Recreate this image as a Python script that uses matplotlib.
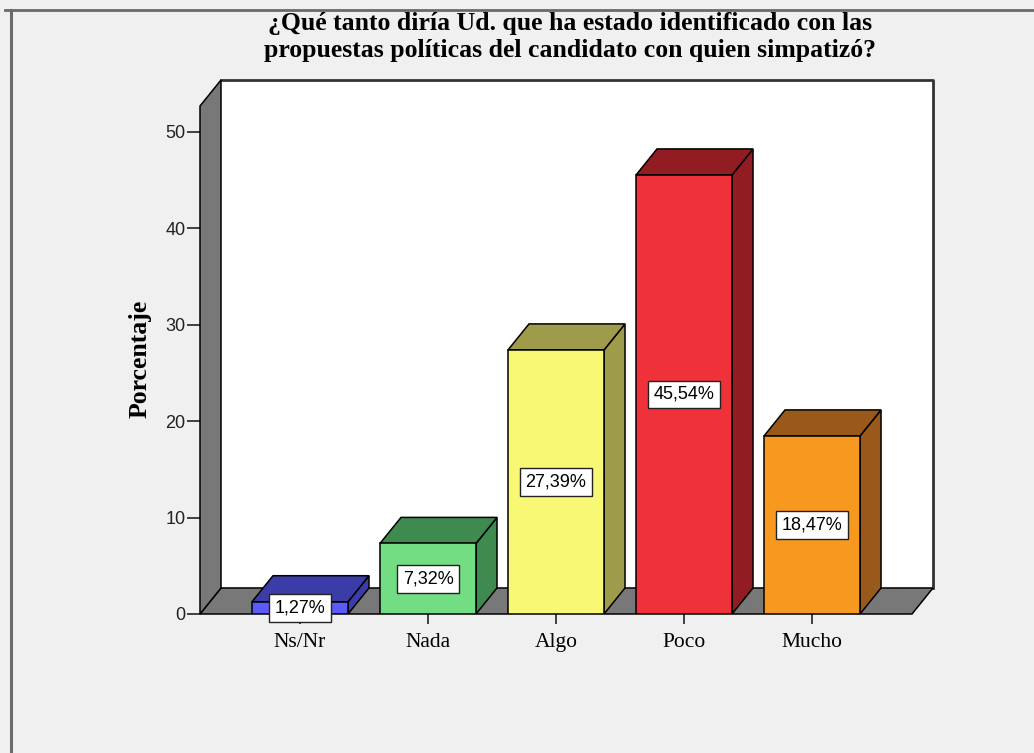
import matplotlib
matplotlib.use("Agg")
import matplotlib.pyplot as plt
from matplotlib.patches import Polygon, Rectangle
from matplotlib.lines import Line2D

# Data
categories = ["Ns/Nr", "Nada", "Algo", "Poco", "Mucho"]
values = [1.27, 7.32, 27.39, 45.54, 18.47]
labels = ["1,27%", "7,32%", "27,39%", "45,54%", "18,47%"]
front_colors = ["#5b5bfb", "#72dd82", "#f8f874", "#ef3239", "#f7981f"]
side_colors = ["#3c3ca8", "#3f8a4f", "#9e9c4a", "#911d22", "#98591a"]
yticks = [0, 10, 20, 30, 40, 50]

TITLE = "¿Qué tanto diría Ud. que ha estado identificado con las\npropuestas políticas del candidato con quien simpatizó?"

W, H = 1034, 753
fig = plt.figure(figsize=(W / 100, H / 100), dpi=100)
fig.patch.set_facecolor("#f0f0f0")

# axes box in pixels: front-left x=200, back-right x=933, floor y=614, top y=80
ax = fig.add_axes([200 / W, 1 - 614 / H, (933 - 200) / W, (614 - 80) / H])
ax.set_xlim(-0.78125, 4.945)
ax.set_ylim(0, 55.39)
ax.patch.set_alpha(0)
for s in ax.spines.values():
    s.set_visible(False)

dx, dy = 0.164, 2.7   # depth offset
x0, x1 = -0.78125, 4.945 - dx
ytop = 55.39
bw = 0.75
edge = "#000000"
lw = 1.1
grey = "#787878"

# back wall
ax.add_patch(Rectangle((x0 + dx, dy), x1 - x0, ytop - dy, facecolor="white",
                       edgecolor="none", zorder=1))
ax.add_line(Line2D([x0 + dx, x1 + dx, x1 + dx], [ytop, ytop, dy], color="#333333",
                   lw=2.0, zorder=2, clip_on=False))
# floor
ax.add_patch(Polygon([(x0, 0), (x1, 0), (x1 + dx, dy), (x0 + dx, dy)], closed=True,
                     facecolor=grey, edgecolor=edge, lw=lw, zorder=2, clip_on=False))
# left wall
ax.add_patch(Polygon([(x0, 0), (x0, ytop - dy), (x0 + dx, ytop), (x0 + dx, dy)], closed=True,
                     facecolor=grey, edgecolor=edge, lw=lw, zorder=2, clip_on=False))

# bars
for i, (v, fc, sc) in enumerate(zip(values, front_colors, side_colors)):
    l, r = i - bw / 2, i + bw / 2
    side = Polygon([(r, 0), (r + dx, dy), (r + dx, v + dy), (r, v)], closed=True,
                   facecolor=sc, edgecolor=edge, lw=lw, zorder=3)
    top = Polygon([(l, v), (r, v), (r + dx, v + dy), (l + dx, v + dy)], closed=True,
                  facecolor=sc, edgecolor=edge, lw=lw, zorder=3)
    front = Rectangle((l, 0), bw, v, facecolor=fc, edgecolor=edge, lw=lw, zorder=4)
    for p in (side, top, front):
        ax.add_patch(p)
    ax.text(i, v / 2, labels[i], ha="center", va="center", fontsize=13,
            family="Liberation Sans", zorder=6,
            bbox=dict(boxstyle="square,pad=0.3", facecolor="white", edgecolor="#222222", lw=1.0))

# ticks
ax.set_yticks(yticks)
ax.set_yticklabels([str(t) for t in yticks], fontsize=13, family="Liberation Sans", color="#222222")
ax.set_xticks(range(len(categories)))
ax.set_xticklabels(categories, fontsize=15.5, family="Liberation Serif")
ax.tick_params(axis="y", direction="out", length=9.5, width=1.2, color="#222222", pad=1)
ax.tick_params(axis="x", direction="out", length=7.5, width=1.2, color="#222222", pad=6)

# y label
fig.text(140 / W, 1 - 359 / H, "Porcentaje", rotation=90, ha="center", va="center",
         fontsize=18.5, family="Liberation Serif", fontweight="bold")

fig.text(570 / W, 1 - 37 / H, TITLE, ha="center", va="center", fontsize=18.5,
         family="Liberation Serif", fontweight="bold", linespacing=1.25)

# frame border lines
fig.add_artist(Line2D([5 / W, 1], [1 - 10 / H, 1 - 10 / H], transform=fig.transFigure,
                      color="#6a6a6a", lw=2))
fig.add_artist(Line2D([11 / W, 11 / W], [0, 1 - 10 / H], transform=fig.transFigure,
                      color="#6a6a6a", lw=2.2))

fig.savefig("out.png", dpi=100, facecolor=fig.get_facecolor())
